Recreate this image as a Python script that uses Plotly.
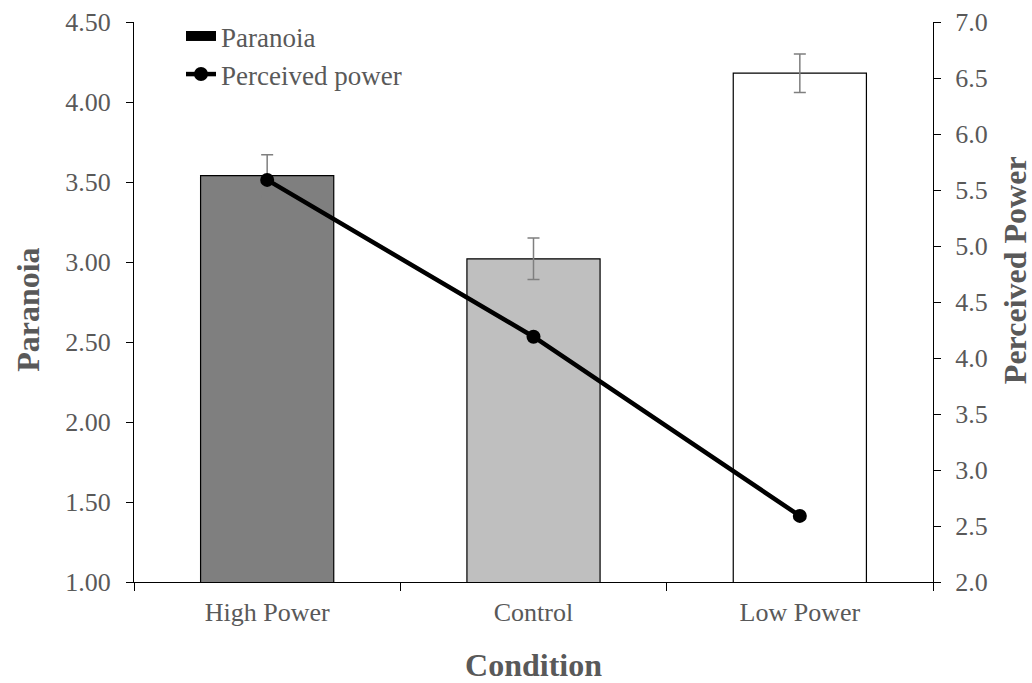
import plotly.graph_objects as go

conditions = ["High Power", "Control", "Low Power"]
paranoia = [3.54, 3.02, 4.18]
paranoia_err = [0.13, 0.13, 0.12]
perceived_power = [5.59, 4.19, 2.59]
bar_colors = ["#7f7f7f", "#bfbfbf", "#ffffff"]

FONT = "Liberation Serif"
GRAY = "#595959"
TICK = 26
TITLE = 32

fig = go.Figure()

fig.add_trace(go.Bar(
    x=conditions, y=paranoia, width=0.5,
    marker=dict(color=bar_colors, line=dict(color="black", width=1.2)),
    error_y=dict(type="data", array=paranoia_err, color="#7f7f7f", thickness=1.5, width=6),
    showlegend=False, yaxis="y",
))

# legend entry for the bars
fig.add_trace(go.Scatter(
    x=[None], y=[None], mode="lines", name="Paranoia",
    line=dict(color="black", width=12), legendgroup="a",
))

fig.add_trace(go.Scatter(
    x=conditions, y=perceived_power, mode="lines+markers", name="Perceived power",
    line=dict(color="black", width=4.5), marker=dict(color="black", size=14),
    yaxis="y2", legendgroup="b",
))

fig.update_layout(
    width=1032, height=683,
    margin=dict(l=134, r=99, t=22, b=101),
    plot_bgcolor="white", paper_bgcolor="white",
    font=dict(family=FONT, color=GRAY, size=TICK),
    xaxis=dict(
        type="category", showline=True, linecolor="black", linewidth=1.3,
        ticks="outside", tickson="boundaries", ticklen=8, tickcolor="black",
        tickfont=dict(size=TICK, color=GRAY), ticklabelstandoff=7, automargin=False,
        title=dict(text="<b>Condition</b>", font=dict(size=TITLE, color=GRAY), standoff=28),
        showgrid=False,
    ),
    yaxis=dict(
        range=[1, 4.5], dtick=0.5, tickformat=".2f", showline=True, linecolor="black",
        linewidth=1.3, ticks="outside", ticklen=7, tickcolor="black", automargin=False,
        showgrid=False, zeroline=False, tickfont=dict(size=TICK, color=GRAY),
        ticklabelstandoff=10,
    ),
    yaxis2=dict(
        range=[2, 7], dtick=0.5, tickformat=".1f", overlaying="y", side="right",
        showline=True, linecolor="black", linewidth=1.3, ticks="outside", ticklen=7,
        tickcolor="black", showgrid=False, zeroline=False, automargin=False,
        tickfont=dict(size=TICK, color=GRAY), ticklabelstandoff=9,
    ),
    legend=dict(x=0.0588, y=1.018, xanchor="left", yanchor="top", bgcolor="rgba(0,0,0,0)",
                font=dict(size=27, color=GRAY), tracegroupgap=0),
    annotations=[
        dict(text="<b>Paranoia</b>", textangle=-90, xref="paper", yref="paper",
             x=-0.1327, y=0.486, xanchor="center", yanchor="middle", showarrow=False,
             font=dict(size=TITLE, color=GRAY, family=FONT)),
        dict(text="<b>Perceived Power</b>", textangle=-90, xref="paper", yref="paper",
             x=1.1027, y=0.557, xanchor="center", yanchor="middle", showarrow=False,
             font=dict(size=TITLE, color=GRAY, family=FONT)),
    ],
)

fig.write_html("out.html")
